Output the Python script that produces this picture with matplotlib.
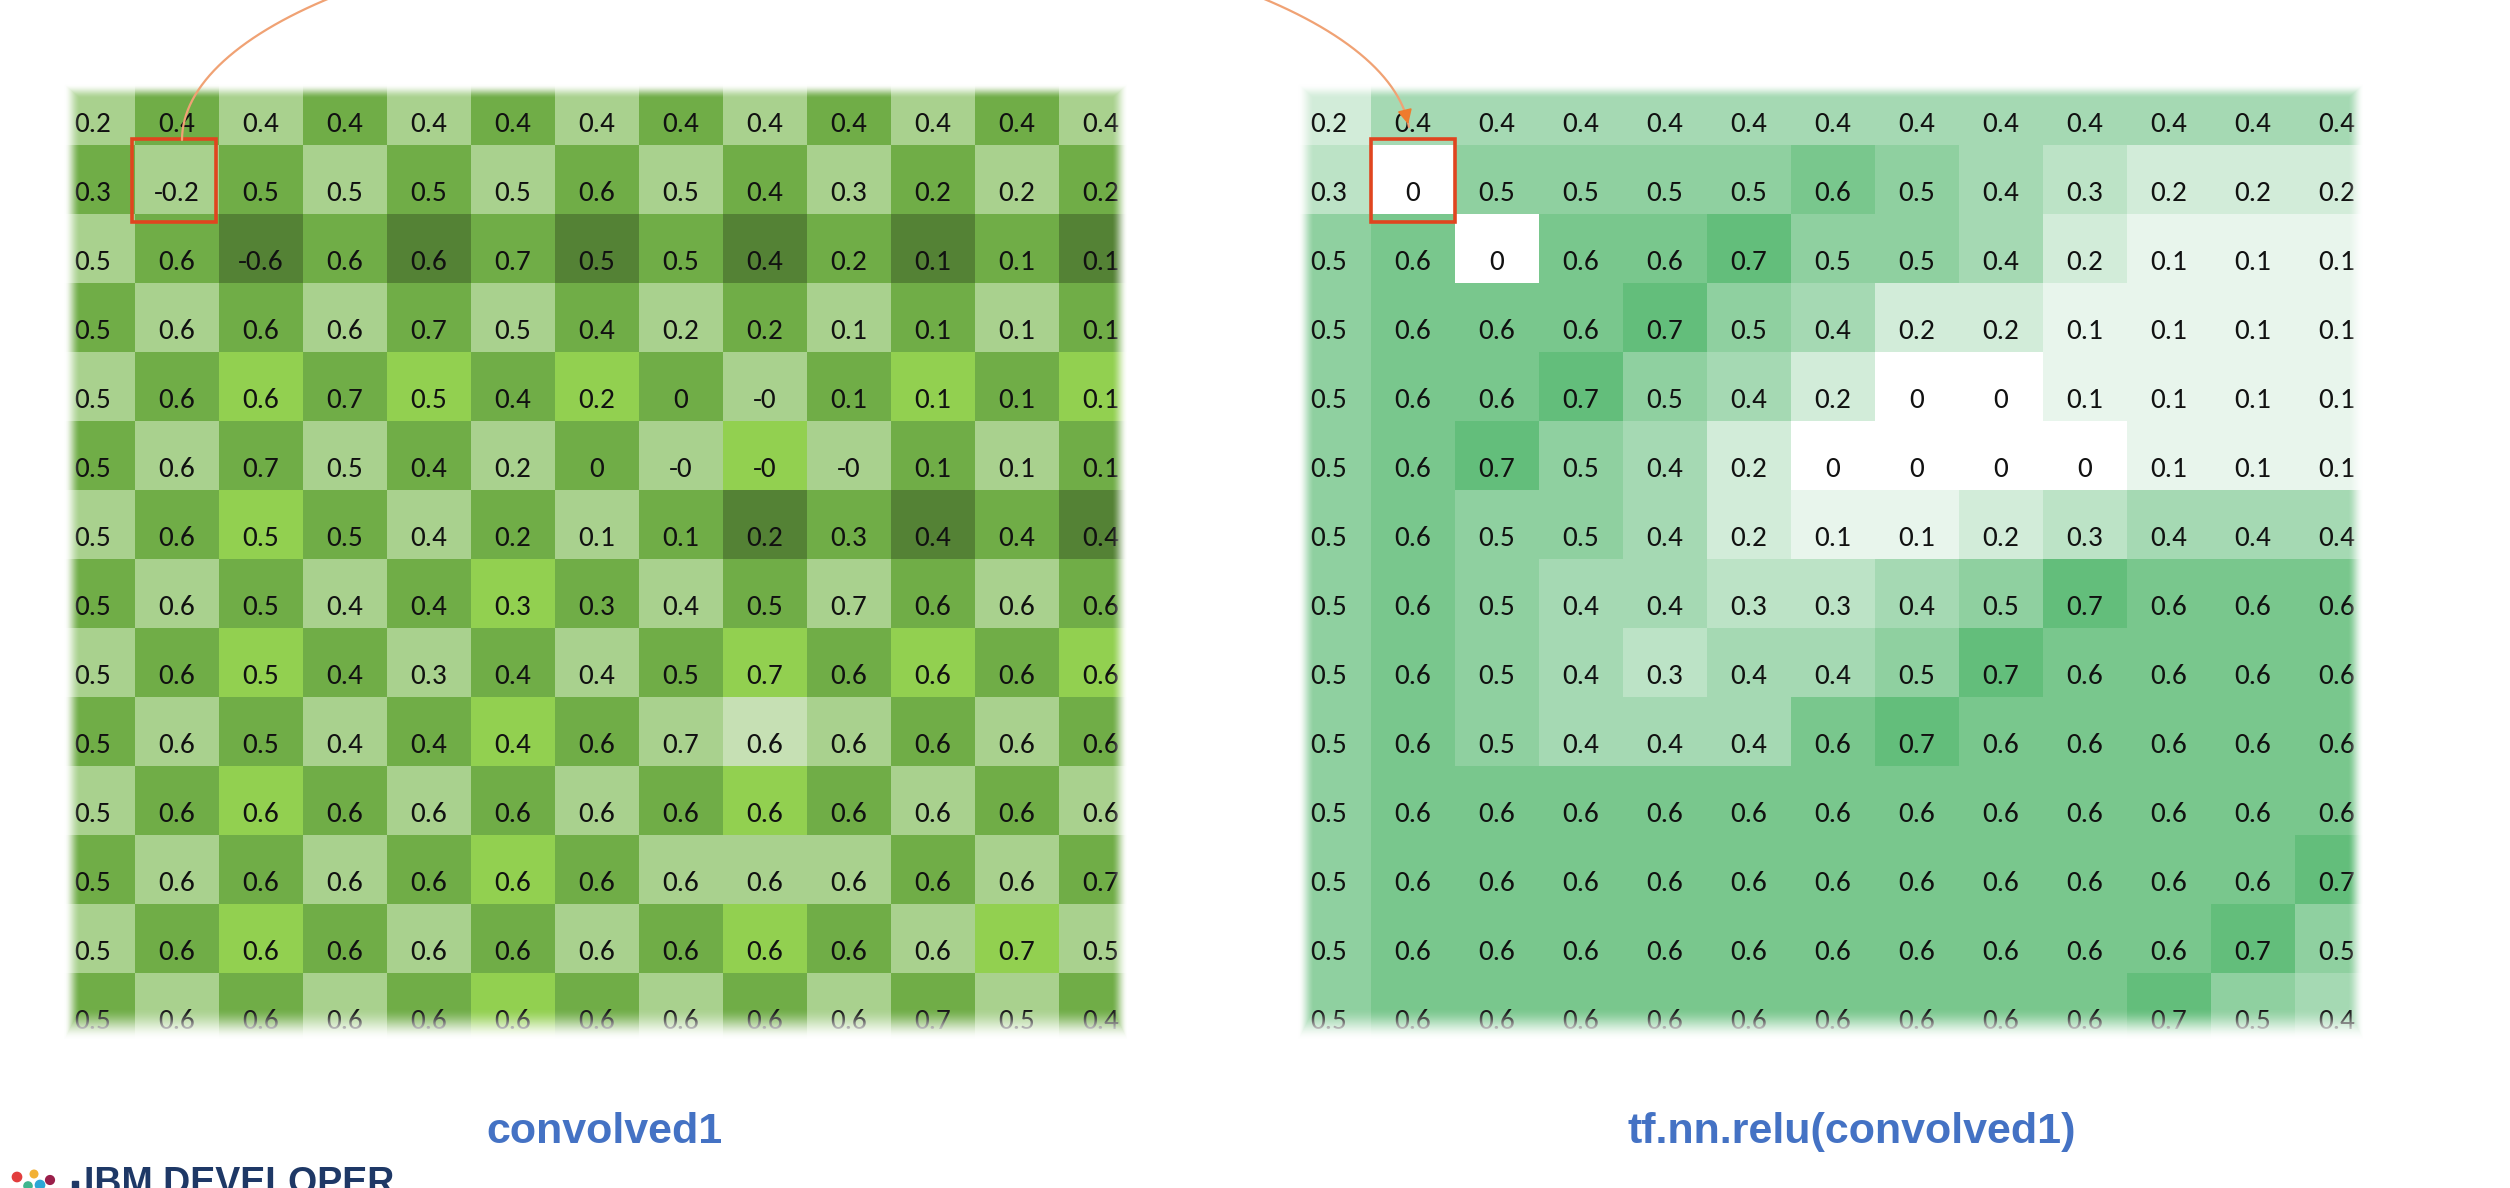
import numpy as np
import matplotlib.pyplot as plt
from matplotlib.colors import LinearSegmentedColormap, ListedColormap
from matplotlib.patches import Rectangle

# values printed in the convolved1 table (-0.0 prints as "-0")
convolved = [
    [0.2, 0.4, 0.4, 0.4, 0.4, 0.4, 0.4, 0.4, 0.4, 0.4, 0.4, 0.4, 0.4],
    [0.3, -0.2, 0.5, 0.5, 0.5, 0.5, 0.6, 0.5, 0.4, 0.3, 0.2, 0.2, 0.2],
    [0.5, 0.6, -0.6, 0.6, 0.6, 0.7, 0.5, 0.5, 0.4, 0.2, 0.1, 0.1, 0.1],
    [0.5, 0.6, 0.6, 0.6, 0.7, 0.5, 0.4, 0.2, 0.2, 0.1, 0.1, 0.1, 0.1],
    [0.5, 0.6, 0.6, 0.7, 0.5, 0.4, 0.2, 0.0, -0.0, 0.1, 0.1, 0.1, 0.1],
    [0.5, 0.6, 0.7, 0.5, 0.4, 0.2, 0.0, -0.0, -0.0, -0.0, 0.1, 0.1, 0.1],
    [0.5, 0.6, 0.5, 0.5, 0.4, 0.2, 0.1, 0.1, 0.2, 0.3, 0.4, 0.4, 0.4],
    [0.5, 0.6, 0.5, 0.4, 0.4, 0.3, 0.3, 0.4, 0.5, 0.7, 0.6, 0.6, 0.6],
    [0.5, 0.6, 0.5, 0.4, 0.3, 0.4, 0.4, 0.5, 0.7, 0.6, 0.6, 0.6, 0.6],
    [0.5, 0.6, 0.5, 0.4, 0.4, 0.4, 0.6, 0.7, 0.6, 0.6, 0.6, 0.6, 0.6],
    [0.5, 0.6, 0.6, 0.6, 0.6, 0.6, 0.6, 0.6, 0.6, 0.6, 0.6, 0.6, 0.6],
    [0.5, 0.6, 0.6, 0.6, 0.6, 0.6, 0.6, 0.6, 0.6, 0.6, 0.6, 0.6, 0.7],
    [0.5, 0.6, 0.6, 0.6, 0.6, 0.6, 0.6, 0.6, 0.6, 0.6, 0.6, 0.7, 0.5],
    [0.5, 0.6, 0.6, 0.6, 0.6, 0.6, 0.6, 0.6, 0.6, 0.6, 0.7, 0.5, 0.4],
]

# values printed in the tf.nn.relu(convolved1) table
relu = [
    [0.2, 0.4, 0.4, 0.4, 0.4, 0.4, 0.4, 0.4, 0.4, 0.4, 0.4, 0.4, 0.4],
    [0.3, 0.0, 0.5, 0.5, 0.5, 0.5, 0.6, 0.5, 0.4, 0.3, 0.2, 0.2, 0.2],
    [0.5, 0.6, 0.0, 0.6, 0.6, 0.7, 0.5, 0.5, 0.4, 0.2, 0.1, 0.1, 0.1],
    [0.5, 0.6, 0.6, 0.6, 0.7, 0.5, 0.4, 0.2, 0.2, 0.1, 0.1, 0.1, 0.1],
    [0.5, 0.6, 0.6, 0.7, 0.5, 0.4, 0.2, 0.0, 0.0, 0.1, 0.1, 0.1, 0.1],
    [0.5, 0.6, 0.7, 0.5, 0.4, 0.2, 0.0, 0.0, 0.0, 0.0, 0.1, 0.1, 0.1],
    [0.5, 0.6, 0.5, 0.5, 0.4, 0.2, 0.1, 0.1, 0.2, 0.3, 0.4, 0.4, 0.4],
    [0.5, 0.6, 0.5, 0.4, 0.4, 0.3, 0.3, 0.4, 0.5, 0.7, 0.6, 0.6, 0.6],
    [0.5, 0.6, 0.5, 0.4, 0.3, 0.4, 0.4, 0.5, 0.7, 0.6, 0.6, 0.6, 0.6],
    [0.5, 0.6, 0.5, 0.4, 0.4, 0.4, 0.6, 0.7, 0.6, 0.6, 0.6, 0.6, 0.6],
    [0.5, 0.6, 0.6, 0.6, 0.6, 0.6, 0.6, 0.6, 0.6, 0.6, 0.6, 0.6, 0.6],
    [0.5, 0.6, 0.6, 0.6, 0.6, 0.6, 0.6, 0.6, 0.6, 0.6, 0.6, 0.6, 0.7],
    [0.5, 0.6, 0.6, 0.6, 0.6, 0.6, 0.6, 0.6, 0.6, 0.6, 0.6, 0.7, 0.5],
    [0.5, 0.6, 0.6, 0.6, 0.6, 0.6, 0.6, 0.6, 0.6, 0.6, 0.7, 0.5, 0.4],
]

titles = ["convolved1", "tf.nn.relu(convolved1)"]
selected = (1, 1)  # row, col of the highlighted cell

# checkerboard fill of the left table (L light, M mid, D dark, B bright, P pale)
left_shade = [
    "LMLMLMLMLMLML",
    "MLMLMLMLMLMLM",
    "LMDMDMDMDMDMD",
    "MLMLMLMLMLMLM",
    "LMBMBMBMLMBMB",
    "MLMLMLMLBLMLM",
    "LMBMLMLMDMDMD",
    "MLMLMBMLMLMLM",
    "LMBMLMLMBMBMB",
    "MLMLMBMLPLMLM",
    "LMBMLMLMBMLML",
    "MLMLMBMLLLMLM",
    "LMBMLMLMBMLBL",
    "MLMLMBMLMLMLM",
]
shade_keys = "LMDBP"
shade_colors = ["#a9d18e", "#70ad47", "#548235", "#92d050", "#c6e0b4"]

W, H = 2510, 1188
fig = plt.figure(figsize=(W / 100, H / 100), dpi=100)
fig.patch.set_facecolor("white")

num_font = ["Carlito", "Lato", "DejaVu Sans"]
label_font = ["Liberation Sans Narrow", "Liberation Sans", "DejaVu Sans"]


def fade_overlay(ax, wpx, hpx, left=16, right=16, top=14, bottom=32):
    # white feathered border drawn over the table
    xx = np.arange(wpx)[None, :]
    yy = np.arange(hpx)[:, None]
    d = np.minimum.reduce([
        np.broadcast_to(xx / left, (hpx, wpx)),
        np.broadcast_to((wpx - 1 - xx) / right, (hpx, wpx)),
        np.broadcast_to(yy / top, (hpx, wpx)),
        np.broadcast_to((hpx - 1 - yy) / bottom, (hpx, wpx)),
    ])
    d = np.clip(d, 0, 1)
    a = 1 - d * d * (3 - 2 * d)
    rgba = np.ones((hpx, wpx, 4))
    rgba[..., 3] = a
    ax.imshow(rgba, extent=(0, 1, 0, 1), transform=ax.transAxes,
              aspect="auto", interpolation="bilinear", zorder=10)


def make_table(px_left, px_right, first_center, vals, kind):
    # pixel box of the visible table, converted to cell units
    px_top, px_bottom = 84, 1040
    cell_w, cell_h, row0_center = 84, 69, 110.5
    ax = fig.add_axes([px_left / W, 1 - px_bottom / H,
                       (px_right - px_left) / W, (px_bottom - px_top) / H])
    data = np.array(vals)
    nrows, ncols = data.shape
    if kind == "checker":
        idx = np.array([[shade_keys.index(c) for c in row] for row in left_shade])
        ax.imshow(idx, cmap=ListedColormap(shade_colors), vmin=-0.5, vmax=4.5,
                  interpolation="nearest", aspect="auto")
    else:
        cmap = LinearSegmentedColormap.from_list("wg", ["#ffffff", "#63be7b"])
        ax.imshow(data, cmap=cmap, vmin=0, vmax=0.7,
                  interpolation="nearest", aspect="auto")
    for i in range(nrows):
        for j in range(ncols):
            ax.text(j, i + 0.21, f"{data[i, j]:g}", ha="center", va="center",
                    fontsize=21, family=num_font, color="#111111", clip_on=True)
    r, c = selected
    shift = 0.0 if kind == "checker" else 0.03
    ax.add_patch(Rectangle((c - 0.53 + shift, r - 0.58), 1.0, 1.2, fill=False,
                           edgecolor="#e0451f", lw=2.6, zorder=6))
    ax.set_xlim((px_left - first_center) / cell_w, (px_right - first_center) / cell_w)
    ax.set_ylim((px_bottom - row0_center) / cell_h, (px_top - row0_center) / cell_h)
    ax.axis("off")
    fade_overlay(ax, px_right - px_left, px_bottom - px_top)
    return ax


make_table(64, 1128, 93, convolved, "checker")
make_table(1298, 2364, 1329, relu, "scale")

# overlay in pixel units for the arrow, captions and logo
ov = fig.add_axes([0, 0, 1, 1], zorder=20)
ov.set_xlim(0, W)
ov.set_ylim(H, 0)
ov.axis("off")

t = np.linspace(0, np.pi - 0.06, 400)
arc_x = 796 - 614 * np.cos(t)
arc_y = 140 - 218 * np.sin(t)
ov.plot(arc_x, arc_y, color="#f0a274", lw=1.6, solid_capstyle="round")
ov.annotate("", xy=(arc_x[-1], arc_y[-1]), xytext=(arc_x[-8], arc_y[-8]),
            arrowprops=dict(arrowstyle="-|>", color="#ef7b2e", lw=1.2,
                            mutation_scale=22))

ov.text(605, 1132, titles[0], ha="center", va="center", fontsize=31,
        fontweight="bold", family=label_font, color="#4472c4")
ov.text(1852, 1132, titles[1], ha="center", va="center", fontsize=31,
        fontweight="bold", family=label_font, color="#4472c4")

# IBM Developer logo, cut off by the bottom edge as in the frame
ov.text(84, 1166, "IBM DEVELOPER", ha="left", va="top", fontsize=27,
        fontweight="bold", family=label_font, color="#1e3866", clip_on=True)
ov.add_patch(Rectangle((72, 1181), 6, 10, color="#1e3866"))
ov.scatter([17, 34, 50, 40, 28], [1177, 1174, 1180, 1185, 1186], s=[45, 30, 40, 45, 35],
           color=["#e23d3d", "#f2b134", "#9a1f4a", "#2aa7d6", "#3fb68e"], zorder=21)

fig.savefig("out.png", dpi=100, facecolor="white")
